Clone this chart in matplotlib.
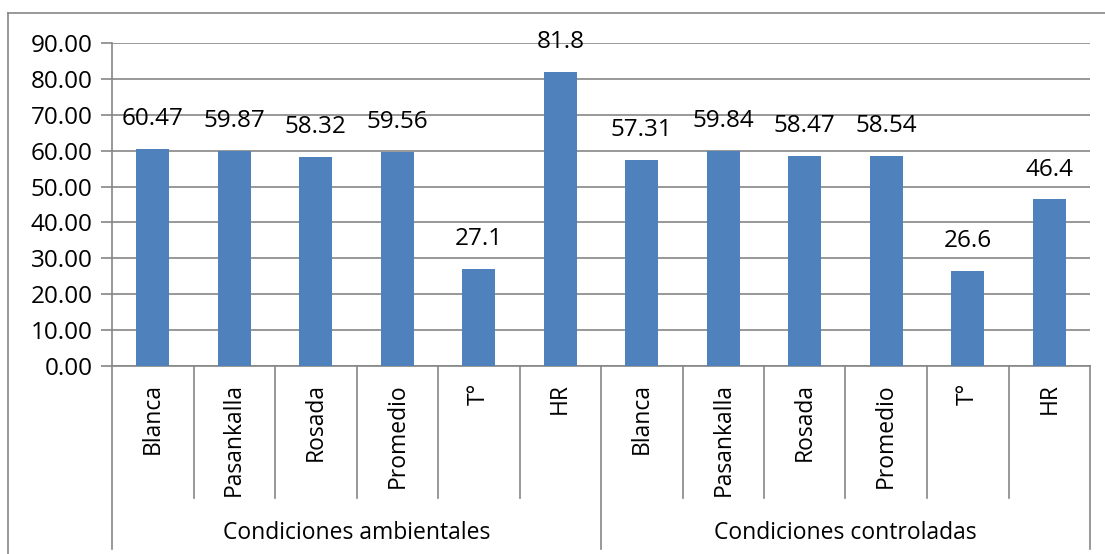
import matplotlib.pyplot as plt
from matplotlib.lines import Line2D
import numpy as np

plt.rcParams['font.family'] = ['Open Sans', 'DejaVu Sans']

categories = ['Blanca', 'Pasankalla', 'Rosada', 'Promedio', 'T°', 'HR',
              'Blanca', 'Pasankalla', 'Rosada', 'Promedio', 'T°', 'HR']
values = [60.47, 59.87, 58.32, 59.56, 27.1, 81.8,
          57.31, 59.84, 58.47, 58.54, 26.6, 46.4]
value_labels = ['60.47', '59.87', '58.32', '59.56', '27.1', '81.8',
                '57.31', '59.84', '58.47', '58.54', '26.6', '46.4']
groups = ['Condiciones ambientales', 'Condiciones controladas']
group_size = 6

W, H = 1105, 554
fig = plt.figure(figsize=(W / 100, H / 100), dpi=100)
left, right, top, bottom = 112, 1090, 43, 366
ax = fig.add_axes([left / W, 1 - bottom / H, (right - left) / W, (bottom - top) / H])

grid_color = '#868686'
num_size = 17.5
cat_size = 16.5
x = np.arange(len(values))
ax.bar(x, values, width=0.4, color='#4F81BD', zorder=3)
ax.set_xlim(-0.5, len(values) - 0.5)
ax.set_ylim(0, 90)
ax.set_yticks(np.arange(0, 91, 10))
ax.set_yticklabels([f'{v:.2f}' for v in np.arange(0, 91, 10)], fontsize=num_size)
ax.tick_params(axis='y', length=8, color=grid_color, width=1.2, pad=6)
ax.set_xticks([])
ax.yaxis.grid(True, color=grid_color, linewidth=1.2, zorder=0)
for s in ['top', 'right']:
    ax.spines[s].set_visible(False)
ax.spines['left'].set_color(grid_color)
ax.spines['bottom'].set_color(grid_color)
ax.spines['left'].set_linewidth(1.2)
ax.spines['bottom'].set_linewidth(1.2)

for xi, v, lab in zip(x, values, value_labels):
    ax.text(xi, v + 5.0, lab, ha='center', va='bottom', fontsize=num_size)

# multi-level category axis drawn in figure pixels
def fx(px):
    return px / W

def fy(py):
    return 1 - py / H

step = (right - left) / len(values)
for i in range(len(values) + 1):
    px = left + i * step
    end = 549 if i % group_size == 0 else 498
    fig.add_artist(Line2D([fx(px), fx(px)], [fy(bottom), fy(end)],
                          color=grid_color, linewidth=1.2))
for i, c in enumerate(categories):
    px = left + (i + 0.5) * step
    fig.text(fx(px), fy(383), c, rotation=90, ha='center', va='top', fontsize=cat_size)
for g, name in enumerate(groups):
    px = left + (g + 0.5) * group_size * step
    fig.text(fx(px), fy(533), name, ha='center', va='center', fontsize=cat_size)

# outer chart border
fig.add_artist(Line2D([fx(8), fx(8)], [fy(13), 0], color=grid_color, linewidth=1.2))
fig.add_artist(Line2D([fx(8), 1], [fy(13), fy(13)], color=grid_color, linewidth=1.2))

fig.savefig('out.png', dpi=100)
